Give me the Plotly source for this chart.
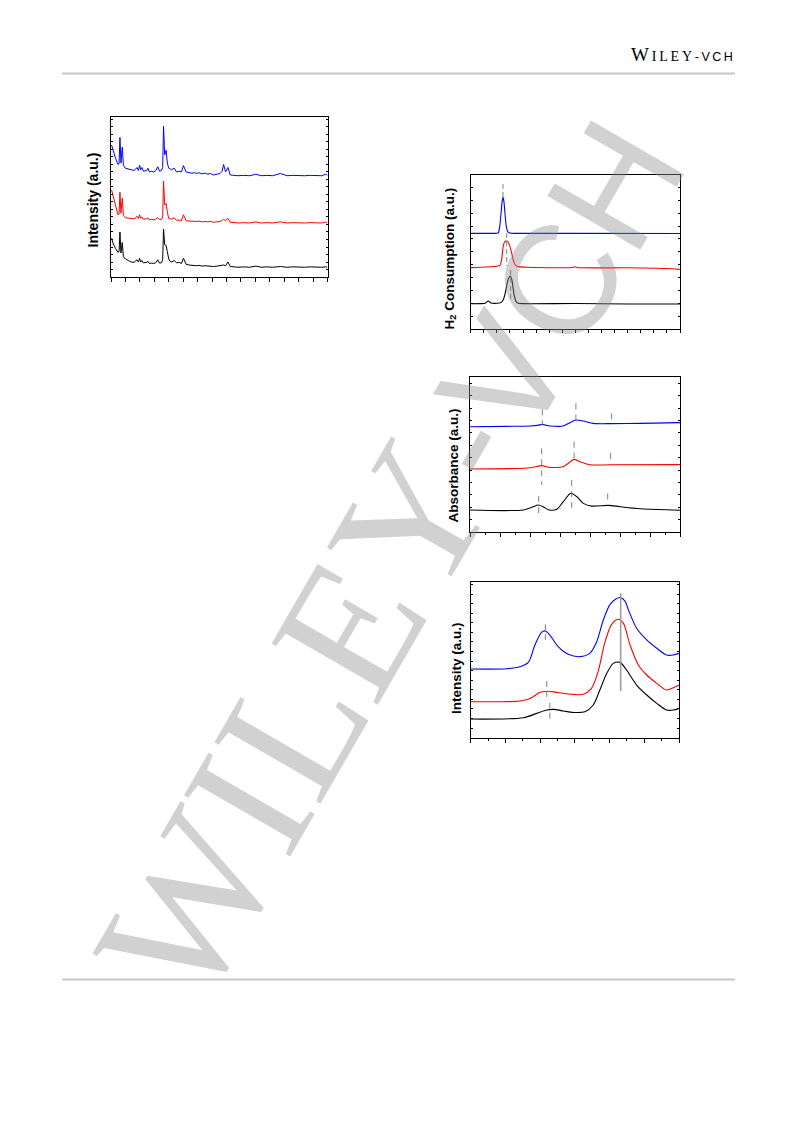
import plotly.graph_objects as go

# ---------------- Panel 1: XRD ----------------
xrd_two_theta = [5.2, 5.8, 6.6, 7.4, 7.8, 8.1, 8.45, 8.9, 9.3, 10.0,
                 11.0, 12.0, 13.0, 13.6, 14.0, 14.5, 14.9, 15.3, 15.7, 16.2,
                 16.8, 17.4, 17.8, 18.3, 19.0, 19.8, 20.5, 21.2, 21.8, 22.5,
                 22.9, 23.2, 23.6, 24.1, 24.5, 25.0, 25.5, 26.0, 26.9, 27.7,
                 28.6, 29.4, 30.1, 31.0, 32.0, 33.0, 34.0, 34.7, 35.5, 36.5,
                 37.5, 38.5, 39.5, 40.5, 41.7, 42.8, 43.5, 44.0, 44.7, 45.5,
                 46.3, 47.5, 49.0, 51.0, 53.0, 55.2, 57.0, 59.0, 61.0, 63.7,
                 66.0, 68.0, 70.0, 72.0, 74.0, 76.0, 78.0, 79.4, 80.0]
xrd_blue = [17.6, 16.7, 15.8, 15.0, 15.1, 18.6, 15.2, 17.3, 14.9, 14.5,
            14.4, 14.3, 14.2, 14.4, 14.6, 14.2, 14.9, 14.3, 14.6, 14.1,
            14.1, 14.2, 14.5, 14.0, 14.1, 14.0, 14.2, 14.7, 14.1, 14.2,
            14.6, 20.1, 16.3, 16.9, 15.2, 14.5, 14.4, 14.3, 14.5, 14.0,
            14.1, 14.0, 14.85, 14.0, 13.9, 13.85, 13.9, 13.8, 13.9, 13.75,
            13.85, 13.7, 13.8, 13.6, 13.7, 13.8, 14.1, 15.0, 14.0, 14.6,
            13.6, 13.55, 13.5, 13.55, 13.5, 13.7, 13.5, 13.55, 13.5, 13.8,
            13.5, 13.55, 13.5, 13.5, 13.55, 13.5, 13.5, 13.7, 13.55]
xrd_red = [11.6, 10.6, 9.3, 8.3, 8.4, 11.3, 8.5, 10.5, 8.2, 7.9,
           7.85, 7.8, 7.75, 7.9, 8.1, 7.8, 8.3, 7.85, 8.0, 7.7,
           7.7, 7.75, 7.9, 7.6, 7.7, 7.6, 7.7, 7.9, 7.65, 7.7,
           8.0, 12.8, 9.6, 9.8, 8.7, 7.8, 7.75, 7.7, 7.9, 7.55,
           7.6, 7.5, 8.3, 7.5, 7.45, 7.4, 7.45, 7.4, 7.45, 7.35,
           7.4, 7.35, 7.4, 7.3, 7.35, 7.4, 7.55, 7.7, 7.5, 7.8,
           7.3, 7.25, 7.2, 7.25, 7.2, 7.35, 7.2, 7.25, 7.2, 7.35,
           7.2, 7.25, 7.2, 7.2, 7.25, 7.2, 7.2, 7.3, 7.2]
xrd_black = [5.16, 4.4, 3.8, 3.3, 3.4, 6.0, 3.2, 4.6, 2.7, 2.4,
             2.2, 2.0, 1.95, 2.1, 2.3, 2.0, 2.5, 2.0, 2.2, 1.9,
             1.9, 1.95, 2.1, 1.8, 1.85, 1.8, 1.9, 2.3, 1.85, 1.9,
             2.3, 6.4, 4.3, 4.2, 3.4, 2.4, 2.1, 2.0, 2.2, 1.9,
             1.95, 1.8, 2.5, 1.7, 1.6, 1.55, 1.6, 1.5, 1.55, 1.45,
             1.5, 1.45, 1.5, 1.4, 1.45, 1.5, 1.5, 1.6, 1.5, 2.0,
             1.4, 1.35, 1.3, 1.35, 1.3, 1.45, 1.3, 1.35, 1.3, 1.4,
             1.3, 1.35, 1.3, 1.3, 1.35, 1.3, 1.3, 1.35, 1.3]

# ---------------- Panel 2: H2-TPR ----------------
tpr_blue_x = [100, 150, 200, 206, 211, 216, 220, 223.5, 227, 231, 236, 242, 250, 262, 500, 900]
tpr_blue_y = [7.44, 7.44, 7.45, 7.5, 8.0, 9.0, 9.9, 10.24, 9.9, 9.0, 8.0, 7.55, 7.46, 7.44, 7.44, 7.43]
tpr_red_x = [100, 160, 200, 212, 218, 222, 226, 232, 240, 247, 253, 259, 265, 272, 282, 320,
             490, 498, 506, 700, 850, 900]
tpr_red_y = [4.77, 4.82, 4.88, 4.95, 5.35, 6.1, 6.6, 6.82, 6.82, 6.6, 6.2, 5.7, 5.2, 4.95, 4.85, 4.8,
             4.78, 4.84, 4.78, 4.76, 4.7, 4.64]
tpr_black_x = [100, 140, 155, 167, 178, 200, 215, 225, 232, 238, 244, 251, 257, 262, 267, 273,
               282, 300, 500, 700, 900]
tpr_black_y = [1.96, 1.97, 2.0, 2.18, 2.02, 2.0, 2.05, 2.3, 2.8, 3.4, 3.9, 4.12, 3.85, 3.2, 2.55, 2.15,
               2.0, 1.97, 1.98, 1.95, 1.94]
tpr_mark_x = [223.5, 237.6, 252.9]
tpr_mark_top = [11.28, 7.47, 4.59]
tpr_mark_bottom = [10.03, 4.9, 2.26]

# ---------------- Panel 3: UV-vis ----------------
uv_blue_x = [200, 320, 400, 425, 441, 455, 467, 511, 533, 553, 578, 611, 672, 767, 900]
uv_blue_y = [8.49, 8.52, 8.55, 8.6, 8.68, 8.6, 8.55, 8.55, 8.82, 9.03, 8.95, 8.76, 8.74, 8.76, 8.82]
uv_red_x = [200, 378, 406, 439, 461, 480, 511, 528, 547, 567, 600, 667, 900]
uv_red_y = [5.08, 5.14, 5.2, 5.35, 5.22, 5.2, 5.27, 5.54, 5.86, 5.67, 5.42, 5.42, 5.43]
uv_black_x = [200, 378, 406, 428, 444, 461, 489, 511, 536, 556, 578, 606, 661, 700, 767, 878, 900]
uv_black_y = [1.77, 1.78, 1.99, 2.18, 2.04, 1.8, 1.83, 2.45, 3.12, 2.85, 2.31, 2.09, 2.15, 2.04, 1.88, 1.77, 1.75]
uv_mark_x = [441, 553, 672, 439, 547, 669, 429, 539, 659]
uv_mark_top = [9.89, 10.38, 9.57, 6.75, 7.28, 6.37, 2.9, 4.19, 3.12]
uv_mark_bottom = [8.63, 9.03, 8.77, 3.79, 5.94, 5.67, 1.5, 1.77, 2.52]

# ---------------- Panel 4: Raman ----------------
ra_blue_x = [100, 204, 242, 266, 285, 304, 315, 328, 352, 381, 415, 443, 463, 482, 501, 518, 531,
             544, 556, 578, 607, 636, 664, 684, 700]
ra_blue_y = [7.18, 7.21, 7.42, 7.87, 9.69, 11.01, 11.15, 10.73, 9.51, 8.71, 8.47, 8.81, 10.03, 12.3,
             13.9, 14.5, 14.65, 14.3, 13.2, 11.43, 10.21, 9.34, 8.64, 8.64, 8.81]
ra_red_x = [100, 242, 271, 300, 324, 348, 396, 424, 448, 467, 487, 506, 525, 540, 559, 583, 607,
            636, 664, 684, 700]
ra_red_y = [3.76, 3.83, 4.1, 4.74, 4.86, 4.74, 4.53, 4.53, 5.16, 6.9, 10.03, 11.84, 12.37, 11.95,
            9.69, 7.6, 6.55, 5.68, 4.98, 5.22, 5.5]
ra_black_x = [100, 252, 290, 319, 338, 367, 396, 429, 453, 472, 492, 511, 530, 549, 578, 607, 636,
              664, 684, 700]
ra_black_y = [1.95, 2.09, 2.54, 2.89, 2.96, 2.79, 2.64, 2.71, 3.42, 4.99, 6.73, 7.77, 7.87, 7.07,
              5.5, 4.46, 3.59, 2.89, 2.89, 3.07]
ra_line_x = [532]
ra_line_top = [15.09]
ra_line_bottom = [4.88]
ra_mark_x = [315, 319, 328]
ra_mark_top = [11.85, 5.92, 3.66]
ra_mark_bottom = [10.21, 4.18, 1.95]

# ---------------- layout helpers (page pixel -> paper) ----------------
OFF = 8            # default body margin of the page around the plot div
W, H = 777, 1105


def PX(x):
    return (x - OFF) / W


def PY(y):
    return 1 - (y - OFF) / H


def xdom(l, r):
    return [PX(l), PX(r)]


def ydom(t, b):
    return [PY(b), PY(t)]


def xaxis(dom, rng, dtick, tick0, anchor, minor=None, ticklen=4):
    d = dict(domain=dom, range=rng, anchor=anchor, showgrid=False, zeroline=False,
             showline=True, linecolor='black', linewidth=1, mirror=True,
             ticks='outside', ticklen=ticklen, tickwidth=1, tickcolor='black',
             tickmode='linear', dtick=dtick, tick0=tick0, showticklabels=False)
    if minor:
        d['minor'] = dict(dtick=minor, tick0=tick0, ticks='outside', ticklen=2,
                          tickwidth=1, tickcolor='black', showgrid=False)
    return d


def yaxis(dom, rng, anchor):
    return dict(domain=dom, range=rng, anchor=anchor, showgrid=False, zeroline=False,
                showline=True, linecolor='black', linewidth=1, mirror='ticks',
                ticks='inside', ticklen=2, tickwidth=1, tickcolor='black',
                tickmode='linear', dtick=1, tick0=0, showticklabels=False)


fig = go.Figure()
BLUE, RED, BLACK = '#0000ff', '#ff0000', '#000000'
GRAY = '#808080'

# Panel 1
for ys, c in [(xrd_blue, BLUE), (xrd_red, RED), (xrd_black, BLACK)]:
    fig.add_trace(go.Scatter(x=xrd_two_theta, y=ys, mode='lines', line=dict(color=c, width=1),
                             xaxis='x', yaxis='y', showlegend=False, hoverinfo='skip'))

# Panel 2
for xs, ys, c in [(tpr_blue_x, tpr_blue_y, BLUE), (tpr_red_x, tpr_red_y, RED),
                  (tpr_black_x, tpr_black_y, BLACK)]:
    fig.add_trace(go.Scatter(x=xs, y=ys, mode='lines', line=dict(color=c, width=1.1, shape='spline', smoothing=0.7),
                             xaxis='x2', yaxis='y2', showlegend=False, hoverinfo='skip'))
for xv, t, b in zip(tpr_mark_x, tpr_mark_top, tpr_mark_bottom):
    fig.add_trace(go.Scatter(x=[xv, xv], y=[t, b], mode='lines',
                             line=dict(color=GRAY, width=1, dash='5px,3px'),
                             xaxis='x2', yaxis='y2', showlegend=False, hoverinfo='skip'))

# Panel 3
for xs, ys, c in [(uv_blue_x, uv_blue_y, BLUE), (uv_red_x, uv_red_y, RED),
                  (uv_black_x, uv_black_y, BLACK)]:
    fig.add_trace(go.Scatter(x=xs, y=ys, mode='lines', line=dict(color=c, width=1.1, shape='spline', smoothing=0.8),
                             xaxis='x3', yaxis='y3', showlegend=False, hoverinfo='skip'))
for xv, t, b in zip(uv_mark_x, uv_mark_top, uv_mark_bottom):
    fig.add_trace(go.Scatter(x=[xv, xv], y=[t, b], mode='lines',
                             line=dict(color=GRAY, width=1, dash='6px,5px'),
                             xaxis='x3', yaxis='y3', showlegend=False, hoverinfo='skip'))

# Panel 4
for xs, ys, c in [(ra_blue_x, ra_blue_y, BLUE), (ra_red_x, ra_red_y, RED),
                  (ra_black_x, ra_black_y, BLACK)]:
    fig.add_trace(go.Scatter(x=xs, y=ys, mode='lines', line=dict(color=c, width=1.1, shape='spline', smoothing=0.8),
                             xaxis='x4', yaxis='y4', showlegend=False, hoverinfo='skip'))
for xv, t, b in zip(ra_line_x, ra_line_top, ra_line_bottom):
    fig.add_trace(go.Scatter(x=[xv, xv], y=[t, b], mode='lines',
                             line=dict(color='#9a9a9a', width=1.5),
                             xaxis='x4', yaxis='y4', showlegend=False, hoverinfo='skip'))
for xv, t, b in zip(ra_mark_x, ra_mark_top, ra_mark_bottom):
    fig.add_trace(go.Scatter(x=[xv, xv], y=[t, b], mode='lines',
                             line=dict(color=GRAY, width=1, dash='6px,4px'),
                             xaxis='x4', yaxis='y4', showlegend=False, hoverinfo='skip'))

SANS = 'Liberation Sans, Arial, sans-serif'
SERIF = 'Liberation Serif, Times New Roman, serif'
AX_FONT = dict(family=SANS, size=13.5, color='black')
TS = '\u2009'

annotations = [
    dict(text='<b>Intensity (a.u.)</b>', x=PX(92), y=PY(200.5), xref='paper', yref='paper',
         textangle=-90, showarrow=False, xanchor='center', yanchor='middle',
         font=dict(family=SANS, size=14, color='black')),
    dict(text='<b>H<sub>2</sub> Consumption (a.u.)</b>', x=PX(450), y=PY(258.5), xref='paper', yref='paper',
         textangle=-90, showarrow=False, xanchor='center', yanchor='middle', font=AX_FONT),
    dict(text='<b>Absorbance (a.u.)</b>', x=PX(453), y=PY(465.5), xref='paper', yref='paper',
         textangle=-90, showarrow=False, xanchor='center', yanchor='middle', font=AX_FONT),
    dict(text='<b>Intensity (a.u.)</b>', x=PX(456), y=PY(668), xref='paper', yref='paper',
         textangle=-90, showarrow=False, xanchor='center', yanchor='middle', font=AX_FONT),
    # header logo text
    dict(text="W<span style='font-size:14px'>" + TS + "I" + TS + "L" + TS + "E" + TS + "Y" + TS + "</span>"
              "<span style='font-family:Liberation Sans, Arial;font-size:12.5px'>-" + TS + "V" + TS + "C" + TS + "H</span>",
         x=PX(735), y=PY(54.5), xref='paper', yref='paper', showarrow=False,
         xanchor='right', yanchor='middle',
         font=dict(family=SERIF, size=19, color='black')),
    # watermark
    dict(text="WILEY<span style='font-family:Liberation Sans, Arial;font-size:156px'>-VCH</span>",
         x=PX(389), y=PY(557), xref='paper', yref='paper', showarrow=False,
         xanchor='center', yanchor='middle', textangle=-60,
         font=dict(family=SERIF, size=187, color='rgba(140,140,140,0.40)')),
]

shapes = [
    dict(type='line', xref='paper', yref='paper', x0=PX(62), x1=PX(735), y0=PY(73.5), y1=PY(73.5),
         line=dict(color='#c8c8c8', width=2)),
    dict(type='line', xref='paper', yref='paper', x0=PX(62), x1=PX(735), y0=PY(979.5), y1=PY(979.5),
         line=dict(color='#c8c8c8', width=2)),
]

fig.update_layout(
    width=W, height=H, margin=dict(l=0, r=0, t=0, b=0),
    paper_bgcolor='white', plot_bgcolor='rgba(0,0,0,0)',
    showlegend=False,
    xaxis=xaxis(xdom(111, 327.5), [5, 80], 5, 5, 'y'),
    yaxis=yaxis(ydom(117, 277), [0, 21.33], 'x'),
    xaxis2=xaxis(xdom(470.7, 680), [100, 900], 50, 100, 'y2', ticklen=3),
    yaxis2=yaxis(ydom(174.7, 329), [0, 12.0], 'x2'),
    xaxis3=xaxis(xdom(470, 680), [200, 900], 100, 200, 'y3', minor=50),
    yaxis3=yaxis(ydom(377, 532), [0, 12.5], 'x3'),
    xaxis4=xaxis(xdom(470.7, 679), [100, 700], 100, 100, 'y4', minor=50),
    yaxis4=yaxis(ydom(581.7, 737.7), [0, 16.3], 'x4'),
    annotations=annotations, shapes=shapes,
)

fig.write_html('out.html')
